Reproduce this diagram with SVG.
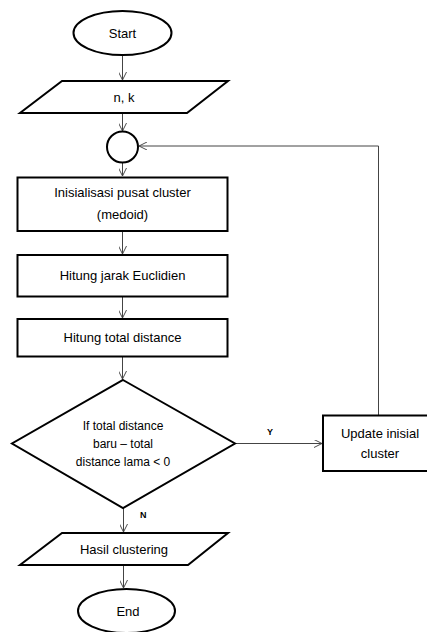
<svg xmlns="http://www.w3.org/2000/svg" width="427" height="632" viewBox="0 0 427 632">
  <style>
    .shape { fill: #ffffff; stroke: #000000; stroke-width: 2; }
    .edge { fill: none; stroke: #444444; stroke-width: 1; marker-end: url(#arrow); }
    .label { font-family: "Liberation Sans", Arial, sans-serif; font-size: 13px; fill: #000000; text-anchor: middle; }
    .small { font-size: 12px; }
    .flag { font-family: "Liberation Sans", Arial, sans-serif; font-size: 9px; font-weight: bold; fill: #000000; }
  </style>
  <defs>
    <marker id="arrow" viewBox="0 0 10 10" refX="10" refY="5" markerWidth="8" markerHeight="8" orient="auto" markerUnits="userSpaceOnUse">
      <path d="M0,0 L10,5 L0,10" fill="none" stroke="#444444" stroke-width="1.2"/>
    </marker>
  </defs>
  <rect width="427" height="632" fill="#ffffff"/>

  <g id="connectors">
    <line class="edge" x1="122.5" y1="55" x2="122.5" y2="80"/>
    <line class="edge" x1="122.5" y1="113" x2="122.5" y2="131"/>
    <line class="edge" x1="122.5" y1="162" x2="122.5" y2="176"/>
    <line class="edge" x1="122.5" y1="231" x2="122.5" y2="254"/>
    <line class="edge" x1="122.5" y1="297" x2="122.5" y2="318"/>
    <line class="edge" x1="122.5" y1="357" x2="122.5" y2="379"/>
    <line class="edge" x1="235" y1="443.5" x2="322" y2="443.5"/>
    <polyline class="edge" points="378.5,415 378.5,146 139,146"/>
    <line class="edge" x1="123.5" y1="508" x2="123.5" y2="532"/>
    <line class="edge" x1="123.5" y1="565" x2="123.5" y2="588"/>
  </g>

  <g id="start">
    <ellipse class="shape" cx="122.5" cy="33" rx="49" ry="22"/>
    <text class="label" x="122.5" y="37.5">Start</text>
  </g>

  <g id="input">
    <polygon class="shape" points="62,81 228,81 187,113 20,113"/>
    <text class="label" x="124" y="101.5">n, k</text>
  </g>

  <g id="junction">
    <circle class="shape" cx="122.5" cy="147" r="15.5"/>
  </g>

  <g id="init">
    <rect class="shape" x="17.5" y="177.5" width="210" height="53.5"/>
    <text class="label" x="122.5" y="197">Inisialisasi pusat cluster</text>
    <text class="label" x="122.5" y="219">(medoid)</text>
  </g>

  <g id="euclid">
    <rect class="shape" x="17.5" y="255" width="210" height="41.5"/>
    <text class="label" x="122.5" y="279.5">Hitung jarak Euclidien</text>
  </g>

  <g id="total">
    <rect class="shape" x="17.5" y="319" width="210" height="37.5"/>
    <text class="label" x="122.5" y="342">Hitung total distance</text>
  </g>

  <g id="decision">
    <polygon class="shape" points="123,380 235,443.5 123,508 12,443.5"/>
    <text class="label small" x="123" y="430">If total distance</text>
    <text class="label small" x="123" y="447.5">baru – total</text>
    <text class="label small" x="123" y="466">distance lama &lt; 0</text>
  </g>

  <g id="update">
    <rect class="shape" x="323" y="415.5" width="110" height="55.5"/>
    <text class="label" x="380" y="437.5">Update inisial</text>
    <text class="label" x="380" y="457.5">cluster</text>
  </g>

  <g id="result">
    <polygon class="shape" points="62,533 228,533 188,565 20,565"/>
    <text class="label" x="124" y="553.5">Hasil clustering</text>
  </g>

  <g id="end">
    <ellipse class="shape" cx="126.5" cy="611" rx="48.5" ry="22"/>
    <text class="label" x="128" y="615.5">End</text>
  </g>

  <text class="flag" x="267" y="434.5">Y</text>
  <text class="flag" x="140" y="517.5">N</text>
</svg>
